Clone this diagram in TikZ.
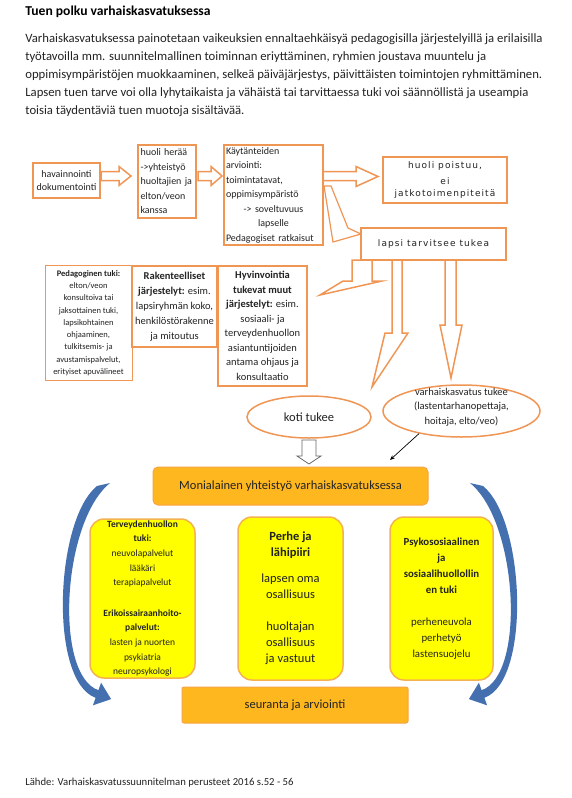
\documentclass[tikz,border=0pt]{standalone}
\usepackage{fontspec}
\setmainfont{Carlito}
\newfontfamily\verdanalike[LetterSpace=12]{DejaVu Sans}
\usetikzlibrary{shapes.geometric,arrows.meta}

\definecolor{boxline}{RGB}{240,150,85}
\definecolor{amber}{RGB}{255,183,32}
\definecolor{amberline}{RGB}{246,165,70}
\definecolor{lemon}{RGB}{255,255,0}
\definecolor{lemonline}{RGB}{244,178,80}
\definecolor{curveblue}{RGB}{68,112,176}
\definecolor{ink}{RGB}{35,35,35}

\newcommand{\fs}[2]{\fontsize{#1}{#2}\selectfont}
\newcommand{\ctrline}[1]{\makebox[\hsize][c]{#1}}

\tikzset{every picture/.style={line width=0.75pt}}
\tikzset{
  obox/.style={draw=boxline, line width=1.6pt, fill=white, inner sep=2pt, text=ink},
  openarrow/.style={draw=boxline, line width=1.5pt, fill=white, line join=miter},
  ellbox/.style={ellipse, draw=boxline, line width=1.5pt, fill=white, inner sep=0pt},
  ambbox/.style={draw=amberline, line width=1pt, fill=amber, rounded corners=5pt, text=ink},
  yelbox/.style={draw=lemonline, line width=1.5pt, fill=lemon, rounded corners=14pt, text=ink, align=center, inner sep=0pt},
  quadarrow/.style={draw=boxline, line width=0.9pt, fill=white},
  fourway/.pic={
    \draw[quadarrow] (0,505) -- (7,514) -- (3.5,514) -- (3.5,589.5) -- (8,589.5) -- (8,586) -- (14,593) -- (8,600) -- (8,596.5) -- (3.5,596.5) -- (3.5,674) -- (7,674) -- (0,683) -- (-7,674) -- (-3.5,674) -- (-3.5,596.5) -- (-8,596.5) -- (-8,600) -- (-14,593) -- (-8,586) -- (-8,589.5) -- (-3.5,589.5) -- (-3.5,514) -- (-7,514) -- cycle;
  },
}

\begin{document}
\begin{tikzpicture}[x=1pt,y=1pt,yscale=-1,xscale=1]
\fill[white] (0,0) rectangle (571,798);
\useasboundingbox (0,0) rectangle (571,798);

% Text Node
\node[anchor=west, inner sep=0pt, font=\bfseries\fs{13.6}{16}] (title) at (25,12) {Tuen polku varhaiskasvatuksessa};
% Text Node
\node[anchor=north west, inner sep=0pt, align=left, font=\fs{12.7}{18.2}, text=ink] (intro) at (25,33) {Varhaiskasvatuksessa painotetaan vaikeuksien ennaltaehkäisyä pedagogisilla järjestelyillä ja erilaisilla\\
työtavoilla mm. suunnitelmallinen toiminnan eriyttäminen, ryhmien joustava muuntelu ja\\
oppimisympäristöjen muokkaaminen, selkeä päiväjärjestys, päivittäisten toimintojen ryhmittäminen.\\
Lapsen tuen tarve voi olla lyhytaikaista ja vähäistä tai tarvittaessa tuki voi säännöllistä ja useampia\\
toisia täydentäviä tuen muotoja sisältävää.};

%Block Arrows (top row)
\draw[openarrow] (101,171.5) -- (119,171.5) -- (119,166.5) -- (131,176) -- (119,185.5) -- (119,180.5) -- (101,180.5) -- cycle;
\draw[openarrow] (198,171.5) -- (211,171.5) -- (211,166.5) -- (222,176) -- (211,185.5) -- (211,180.5) -- (198,180.5) -- cycle;
\draw[openarrow] (323,171.5) -- (356,171.5) -- (356,166.5) -- (378,176.5) -- (356,186.5) -- (356,180.5) -- (323,180.5) -- cycle;
\draw[openarrow, line width=1.2pt] (324,186) -- (331,186) -- (348,228) -- (361,234) -- (333,242) -- cycle;
%Block Arrows (down from lapsi tarvitsee tukea)
\draw[openarrow] (352,260) -- (372,260) -- (372,281) -- (382,281) -- (320,295) -- (343,281) -- (352,281) -- cycle;
\draw[openarrow] (392,260) -- (402,260) -- (402,333) -- (408,333) -- (372,387) -- (385,333) -- (392,333) -- cycle;
\draw[openarrow] (445,260) -- (456,260) -- (456,325) -- (462,325) -- (451,378) -- (440,325) -- (445,325) -- cycle;

%Shape: Boxes
\node[obox, minimum width=67, minimum height=35, align=center, font=\fs{10}{13}] (havain) at (66.5,180.5) {havainnointi\\dokumentointi};
\node[obox, minimum width=58, minimum height=73, text width=53, align=left, font=\fs{10}{14.5}] (huoli) at (167,181.5) {huoli herää\\->yhteistyö\\huoltajien ja\\elton/veon\\kanssa};
\node[obox, minimum width=99, minimum height=100, text width=95, align=left, font=\fs{10}{14.5}] (kayt) at (273.5,195) {Käytänteiden\\arviointi:\\toimintatavat,\\oppimisympäristö\\\ctrline{-> soveltuvuus}\\\ctrline{lapselle}\\Pedagogiset ratkaisut};
\node[obox, minimum width=124, minimum height=46, align=center, font=\verdanalike\fs{9}{12}] (poist) at (445,180) {huoli poistuu,\\[4pt]ei\\jatkotoimenpiteitä};
\node[obox, minimum width=145, minimum height=32, font=\verdanalike\fs{9}{12}] (tukea) at (433.5,244) {lapsi tarvitsee tukea};

\node[obox, line width=0.9pt, minimum width=87, minimum height=115, align=center, font=\fs{8.5}{12.3}] (pedag) at (88.5,323) {\textbf{Pedagoginen tuki:}\\elton/veon\\konsultoiva tai\\jaksottainen tuki,\\lapsikohtainen\\ohjaaminen,\\tulkitsemis- ja\\avustamispalvelut,\\erityiset apuvälineet};
\node[obox, line width=1.8pt, minimum width=85, minimum height=81, align=center, font=\fs{10.5}{15}] (raken) at (174.5,306.5) {\textbf{Rakenteelliset}\\\textbf{järjestelyt:} esim.\\lapsiryhmän koko,\\henkilöstörakenne\\ja mitoutus};
\node[obox, line width=2.2pt, minimum width=89, minimum height=120, align=center, font=\fs{10.5}{14.5}] (hyvin) at (262.5,326) {\textbf{Hyvinvointia}\\\textbf{tukevat muut}\\\textbf{järjestelyt:} esim.\\sosiaali- ja\\terveydenhuollon\\asiantuntijoiden\\antama ohjaus ja\\konsultaatio};

%Shape: Ellipses
\node[ellbox, minimum width=124, minimum height=42, font=\fs{12.5}{15}, text=ink] (koti) at (309,417) {koti tukee};
\node[ellbox, minimum width=157, minimum height=52] (vk) at (461.5,411) {};
\node[align=center, inner sep=0pt, font=\fs{10.5}{14.5}, text=ink] (vktext) at (461.5,407) {varhaiskasvatus tukee\\(lastentarhanopettaja,\\hoitaja, elto/veo)};

%Block Arrow from koti tukee
\draw[draw=gray!80!black, line width=0.8pt, fill=white] (302,440) -- (316,440) -- (316,456) -- (321,456) -- (309,464) -- (297,456) -- (302,456) -- cycle;
% Connector
\coordinate (vkend) at (390,460);
\draw[-{Stealth[length=5pt,width=4pt]}, line width=0.7pt] (vk.208) -- (vkend);

%Shape: Four-way arrows
\pic at (219,0) {fourway};
\pic at (370,0) {fourway};

%Shape: Curved arrows
\foreach \side in {1,-1}{
\begin{scope}[shift={(290,0)}, xscale=\side]
\fill[curveblue] (-193,486) .. controls (-235,520) and (-241.4,680.8) .. (-194.4,697.8) -- (-197.1,705.3) -- (-178.9,699.1) -- (-188.9,682.7) -- (-191.6,690.2) .. controls (-236,675) and (-228,522) .. (-180,483) -- cycle;
\end{scope}
}

%Shape: Rounded boxes
\node[ambbox, minimum width=275, minimum height=38, font=\fs{12.5}{15}] (moni) at (290.5,486) {Monialainen yhteistyö varhaiskasvatuksessa};
\node[yelbox, minimum width=105, minimum height=159, font=\fs{9.5}{14.6}] (terv) at (142.5,598.5) {\textbf{Terveydenhuollon}\\\textbf{tuki:}\\neuvolapalvelut\\lääkäri\\terapiapalvelut\\[16pt]\textbf{Erikoissairaanhoito-}\\\textbf{palvelut:}\\lasten ja nuorten\\psykiatria\\neuropsykologi};
\node[yelbox, minimum width=105, minimum height=163, font=\fs{12.5}{16}] (perhe) at (290.5,598.5) {\textbf{Perhe ja}\\\textbf{lähipiiri}\\[10pt]lapsen oma\\osallisuus\\[16pt]huoltajan\\osallisuus\\ja vastuut};
\node[yelbox, minimum width=103, minimum height=163, font=\fs{10.8}{16}] (psyk) at (441.5,598.5) {\textbf{Psykososiaalinen}\\\textbf{ja}\\\textbf{sosiaalihuollollin}\\\textbf{en tuki}\\[16pt]perheneuvola\\perhetyö\\lastensuojelu};
\node[ambbox, rounded corners=2pt, minimum width=226, minimum height=36, font=\fs{12.5}{15}] (seur) at (295,705) {seuranta ja arviointi};

% Text Node
\node[anchor=west, inner sep=0pt, font=\fs{10.7}{12}, text=ink] (source) at (25,783) {Lähde: Varhaiskasvatussuunnitelman perusteet 2016 s.52 - 56};

\end{tikzpicture}
\end{document}
